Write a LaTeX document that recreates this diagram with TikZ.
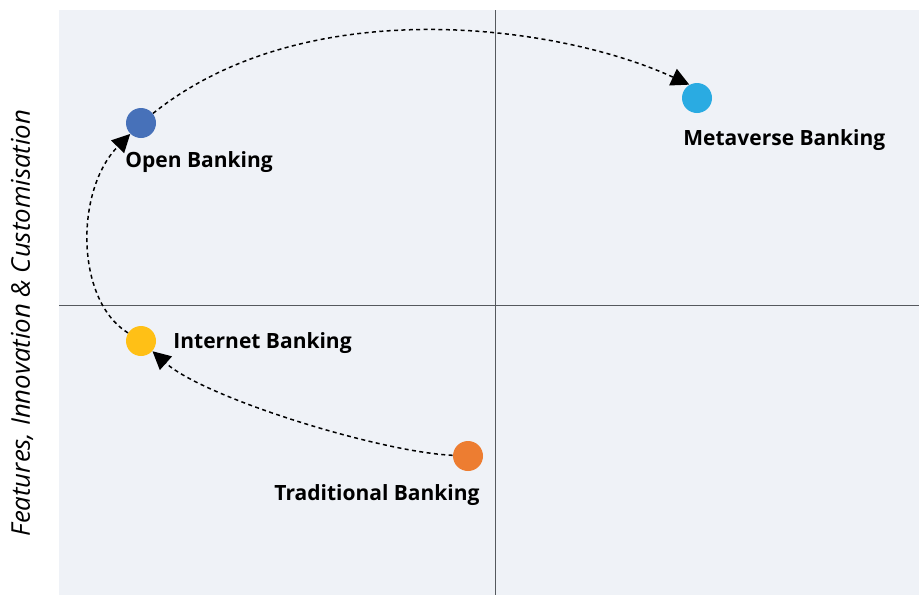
\documentclass[tikz,border=0pt]{standalone}
\usepackage{fontspec}
\setmainfont{Open Sans}
\usetikzlibrary{arrows.meta}

\definecolor{fondo}{RGB}{239,242,247}
\definecolor{ejes}{RGB}{85,89,94}
\definecolor{azulopen}{RGB}{71,113,185}
\definecolor{azulmeta}{RGB}{42,171,226}
\definecolor{amarillo}{RGB}{255,192,22}
\definecolor{naranja}{RGB}{237,125,49}

\begin{document}
\begin{tikzpicture}[x=0.5pt, y=-0.5pt,
    hito/.style={circle, inner sep=0pt, minimum size=15pt},
    etiqueta/.style={font=\bfseries\fontsize{10.5}{12}\selectfont, anchor=west, inner sep=0pt},
    trayecto/.style={black, line width=0.75pt, dash pattern=on 2pt off 1.7pt,
                     -{Triangle[length=9pt, width=9pt]}}]

% ================================================================
%  Lienzo 919 x 595 (unidades de 0.5pt, eje y hacia abajo)
%  Cuadrantes: corte vertical en x = 495, horizontal en y = 305
% ================================================================
\useasboundingbox (0,0) rectangle (919,595);
\fill[fondo] (59,10) rectangle (919,595);
\draw[ejes, line width=0.5pt] (495,10) -- (495,595);
\draw[ejes, line width=0.5pt] (59,305) -- (919,305);

% Titulo del eje vertical
\node[font=\itshape\fontsize{12.9}{15}\selectfont, rotate=90] (yaxis) at (22,323)
    {Features, Innovation \& Customisation};

% Etapas
\node[hito, fill=naranja]  (trad) at (468,456) {};
\node[hito, fill=amarillo] (inet) at (141,341) {};
\node[hito, fill=azulopen] (open) at (141,123) {};
\node[hito, fill=azulmeta] (meta) at (697,98)  {};

% Etiquetas de cada etapa
\node[etiqueta] (tradlbl) at (274,495) {Traditional Banking};
\node[etiqueta] (inetlbl) at (173,343) {Internet Banking};
\node[etiqueta] (openlbl) at (125,162) {Open Banking};
\node[etiqueta] (metalbl) at (683,140) {Metaverse Banking};

% Recorrido entre etapas
\draw[trayecto] (trad) .. controls (380,452) and (205,398) .. (inet);
\draw[trayecto] (inet) .. controls (75,300) and (75,190) .. (open);
\draw[trayecto] (open) .. controls (307,-10) and (560,25) .. (meta.120);

\end{tikzpicture}
\end{document}
